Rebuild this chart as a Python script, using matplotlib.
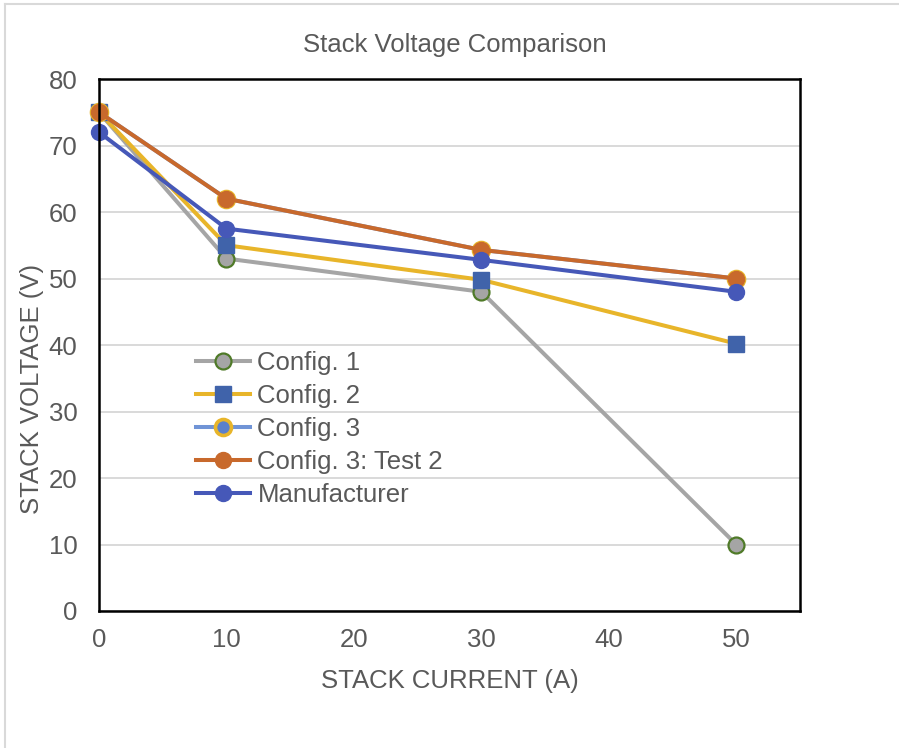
import matplotlib
matplotlib.use("Agg")
import matplotlib.pyplot as plt
from matplotlib.lines import Line2D

plt.rcParams['font.family'] = ['Liberation Sans', 'DejaVu Sans']

current = [0, 10, 30, 50]
config1 = [75, 53, 48, 10]
config2 = [75, 55, 49.8, 40.2]
config3 = [75, 62, 54.3, 50]
config3_test2 = [75, 62, 54.3, 50]
manufacturer = [72, 57.5, 52.8, 48]

x_ticks = [0, 10, 20, 30, 40, 50]
y_ticks = [0, 10, 20, 30, 40, 50, 60, 70, 80]

TXT = '#595959'
FS = 18.5

fig = plt.figure(figsize=(8.99, 7.48), dpi=100)
ax = fig.add_axes([99/899, 1-611/748, (800-99)/899, (611-79)/748])

lw = 2.9
ms = 11.5
series = [
    ("Config. 1", config1, dict(color='#A5A5A5', marker='o', mfc='#A5A5A5', mec='#4F7A28', mew=1.6)),
    ("Config. 2", config2, dict(color='#E8B52A', marker='s', mfc='#4063AA', mec='#4063AA', mew=1.0)),
    ("Config. 3", config3, dict(color='#7094D6', marker='o', mfc='#5B80CC', mec='#E8B52A', mew=2.6)),
    ("Config. 3: Test 2", config3_test2, dict(color='#C8692C', marker='o', mfc='#C8692C', mec='#C8692C', mew=1.0)),
    ("Manufacturer", manufacturer, dict(color='#4658B8', marker='o', mfc='#4658B8', mec='#4658B8', mew=1.0)),
]
for i, (name, ys, st) in enumerate(series):
    ax.plot(current, ys, label=name, lw=lw, ms=ms, zorder=3 + i, clip_on=False, **st)

ax.set_xlim(0, 55)
ax.set_ylim(0, 80)
ax.set_xticks(x_ticks)
ax.set_yticks(y_ticks)
ax.tick_params(length=0, labelsize=FS, colors=TXT)
ax.tick_params(axis='y', pad=15.5)
ax.tick_params(axis='x', pad=12.5)
ax.grid(axis='y', color='#D9D9D9', lw=1.4, zorder=0)
ax.set_axisbelow(True)
for s in ax.spines.values():
    s.set_color('black')
    s.set_linewidth(1.8)
    s.set_zorder(10)

ax.set_title("Stack Voltage Comparison", fontsize=FS, color=TXT, pad=19.5, x=0.508)
ax.set_xlabel("STACK CURRENT (A)", fontsize=FS, color=TXT, labelpad=12)
ax.set_ylabel("STACK VOLTAGE (V)", fontsize=FS, color=TXT)
ax.yaxis.set_label_coords((32 - 99) / 701, (611 - 389) / 532)
ax.yaxis.label.set_va('center')

leg = ax.legend(loc='upper left', bbox_to_anchor=(0.138, 0.488), frameon=False,
                fontsize=FS, handlelength=2.1, handletextpad=0.3, labelspacing=0.35,
                borderaxespad=0, borderpad=0)
for t in leg.get_texts():
    t.set_color(TXT)

# chart-area border
fig.add_artist(Line2D([5/899, 5/899], [0, 1-4/748], transform=fig.transFigure, color='#D9D9D9', lw=1.5))
fig.add_artist(Line2D([5/899, 1], [1-4/748, 1-4/748], transform=fig.transFigure, color='#D9D9D9', lw=1.5))

fig.savefig("out.png", dpi=100)
